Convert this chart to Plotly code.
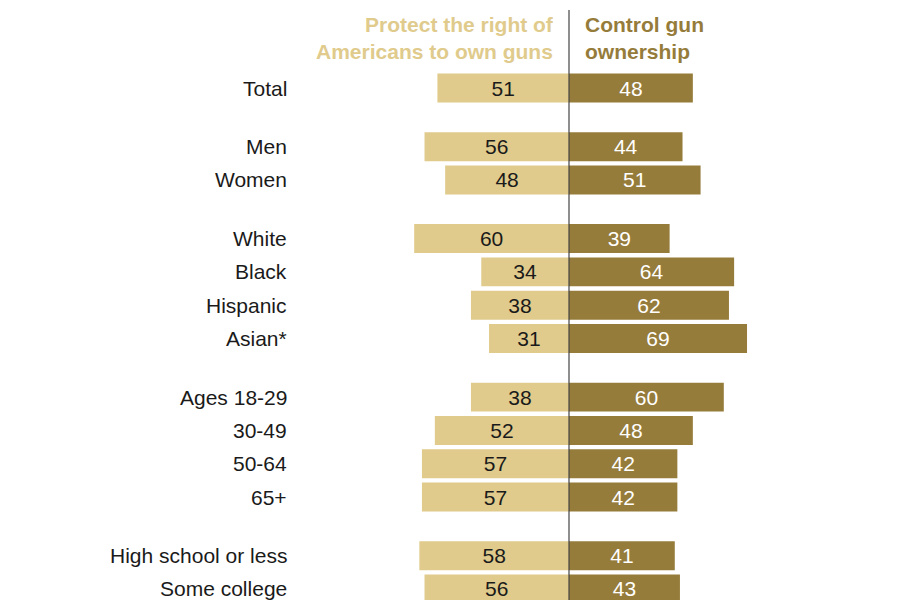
import plotly.graph_objects as go

categories = ["Total", "Men", "Women", "White", "Black", "Hispanic", "Asian*",
              "Ages 18-29", "30-49", "50-64", "65+", "High school or less", "Some college"]
groups = [0, 1, 1, 2, 2, 2, 2, 3, 3, 3, 3, 4, 4]
protect = [51, 56, 48, 60, 34, 38, 31, 38, 52, 57, 57, 58, 56]
control = [48, 44, 51, 39, 64, 62, 69, 60, 48, 42, 42, 41, 43]

header_left = "Protect the right of<br>Americans to own guns"
header_right = "Control gun<br>ownership"

LIGHT = "#e0cb8c"
DARK = "#967c3b"
FONT = "Liberation Sans, Arial, sans-serif"
FS = 21

# page body has an 8px margin; figure is sized/offset to compensate
W, H = 892, 592
OFF = 8

GAP = 0.761
ypos = [i + g * GAP for i, g in enumerate(groups)]

fig = go.Figure()
fig.add_trace(go.Bar(
    y=ypos, x=[-v for v in protect], base=0, orientation="h",
    marker=dict(color=LIGHT, line=dict(width=0)),
    text=[str(v) for v in protect], textposition="inside",
    insidetextanchor="middle", textangle=0, constraintext="none",
    textfont=dict(color="#1a1a1a", size=FS, family=FONT),
    width=0.87, hoverinfo="skip",
))
fig.add_trace(go.Bar(
    y=ypos, x=control, base=0, orientation="h",
    marker=dict(color=DARK, line=dict(width=0)),
    text=[str(v) for v in control], textposition="inside",
    insidetextanchor="middle", textangle=0, constraintext="none",
    textfont=dict(color="white", size=FS, family=FONT),
    width=0.87, hoverinfo="skip",
))

for c, y in zip(categories, ypos):
    fig.add_annotation(x=(289 - OFF) / W, xref="paper", y=y, yref="y", text=c,
                       showarrow=False, xanchor="right", yanchor="middle",
                       font=dict(size=FS, color="#1a1a1a", family=FONT))

fig.add_annotation(x=(556 - OFF) / W, xref="paper", y=1 - (38 - OFF) / H, yref="paper",
                   text="<b>" + header_left + "</b>", showarrow=False,
                   xanchor="right", yanchor="middle", align="right",
                   font=dict(size=FS, color=LIGHT, family=FONT))
fig.add_annotation(x=(583 - OFF) / W, xref="paper", y=1 - (38 - OFF) / H, yref="paper",
                   text="<b>" + header_right + "</b>", showarrow=False,
                   xanchor="left", yanchor="middle", align="left",
                   font=dict(size=FS, color=DARK, family=FONT))

fig.add_shape(type="line", x0=0, x1=0, xref="x", y0=0, y1=1 - (10 - OFF) / H, yref="paper",
              line=dict(color="#444444", width=1.2), layer="above")

px_per_unit = 2.58
row_px = 33.3
cx = 569 - OFF
ty = 88 - OFF
fig.update_layout(
    width=W, height=H,
    margin=dict(l=0, r=0, t=0, b=0),
    paper_bgcolor="white", plot_bgcolor="white",
    barmode="overlay", showlegend=False,
    xaxis=dict(range=[-cx / px_per_unit, (W - cx) / px_per_unit], visible=False, fixedrange=True),
    yaxis=dict(range=[(H - ty) / row_px, -ty / row_px], visible=False, fixedrange=True),
)

fig.write_html("out.html")
